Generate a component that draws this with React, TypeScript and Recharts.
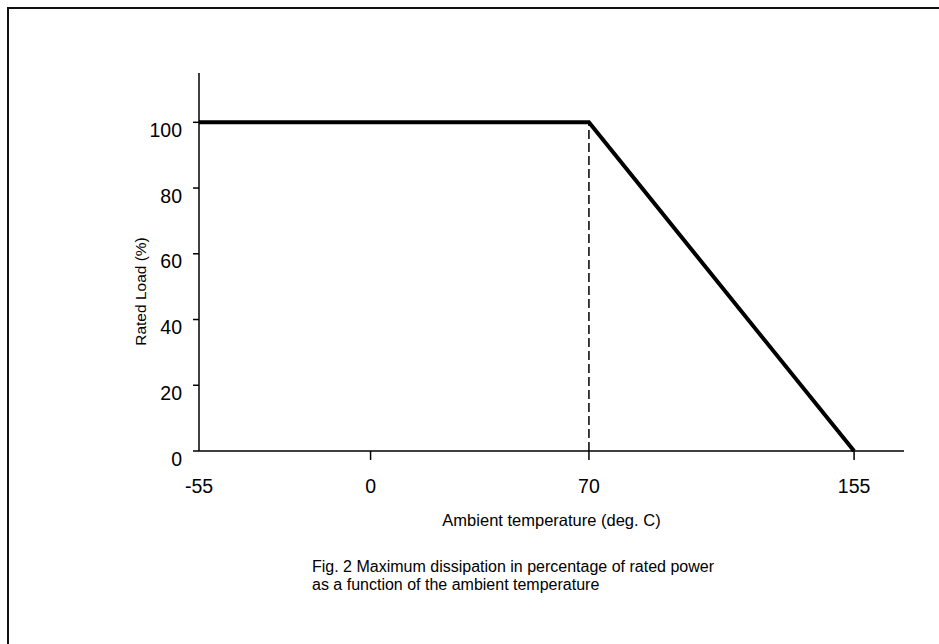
import { LineChart, Line, XAxis, YAxis, ReferenceLine } from 'recharts';

// derating curve: full load up to the knee, then linear down to zero
const temps = [-55, 70, 155];
const loads = [100, 100, 0];
const xTicks = [-55, 0, 70, 155];
const yTicks = [0, 20, 40, 60, 80, 100];
const kneeTemp = 70;
const kneeLoad = 100;

const xTitle = 'Ambient temperature (deg. C)';
const yTitle = 'Rated Load (%)';
const captionLines = [
  'Fig. 2 Maximum dissipation in percentage of rated power',
  'as a function of the ambient temperature',
];

const data = temps.map((t, i) => ({ temp: t, load: loads[i] }));

const FONT = '"Liberation Sans", Arial, sans-serif';

const XTick = ({ x, y, payload }: any) => (
  <g>
    {payload.value !== xTicks[0] && (
      <line x1={x} y1={y - 9} x2={x} y2={y} stroke="#000" strokeWidth={1.5} />
    )}
    <text x={x} y={y + 33} textAnchor="middle" fontSize={19.5} fontFamily={FONT} fill="#000">
      {payload.value}
    </text>
  </g>
);

const YTick = ({ x, y, payload }: any) => (
  <text x={x} y={y + 14.5} textAnchor="end" fontSize={19.5} fontFamily={FONT} fill="#000">
    {payload.value}
  </text>
);

const XTitle = (props: any) => {
  const vb = props.viewBox || { x: 199, y: 451, width: 705 };
  return (
    <text x={vb.x + vb.width / 2} y={vb.y + 74.5} textAnchor="middle" fontSize={16.5} fontFamily={FONT} fill="#000">
      {xTitle}
    </text>
  );
};

const YTitle = (props: any) => {
  const vb = props.viewBox || { x: 0, y: 73, width: 199 };
  const cx = vb.x + 145.5;
  const cy = vb.y + 218.5;
  return (
    <text
      x={cx}
      y={cy}
      transform={`rotate(-90 ${cx} ${cy})`}
      textAnchor="middle"
      fontSize={15.5}
      fontFamily={FONT}
      fill="#000"
    >
      {yTitle}
    </text>
  );
};

export default function App() {
  return (
    <div
      style={{
        position: 'absolute',
        left: 0,
        top: 0,
        width: 939,
        height: 644,
        overflow: 'hidden',
        background: '#fff',
      }}
    >
      <div
        style={{
          position: 'absolute',
          left: 7,
          top: 7,
          width: 1100,
          height: 1100,
          border: '2px solid #111',
        }}
      />
      <div style={{ position: 'absolute', left: 0, top: 0 }}>
        <LineChart width={939} height={644} data={data} margin={{ top: 73, right: 35, bottom: 0, left: 0 }}>
          <XAxis
            dataKey="temp"
            type="number"
            domain={[-55, 171]}
            ticks={xTicks}
            interval={0}
            height={193}
            tickSize={9}
            tickMargin={0}
            tickLine={false}
            axisLine={{ stroke: '#000', strokeWidth: 1.5 }}
            tick={<XTick />}
            label={XTitle}
          />
          <YAxis
            type="number"
            domain={[0, 115]}
            ticks={yTicks}
            interval={0}
            width={199}
            tickSize={6}
            tickMargin={11}
            tickLine={{ stroke: '#000', strokeWidth: 1.5 }}
            axisLine={{ stroke: '#000', strokeWidth: 1.5 }}
            tick={<YTick />}
            label={YTitle}
          />
          <ReferenceLine
            segment={[
              { x: kneeTemp, y: 0 },
              { x: kneeTemp, y: kneeLoad },
            ]}
            stroke="#000"
            strokeWidth={1.5}
            strokeDasharray="9 4"
          />
          <Line
            type="linear"
            dataKey="load"
            stroke="#000"
            strokeWidth={4}
            dot={false}
            isAnimationActive={false}
          />
        </LineChart>
      </div>
      <div
        style={{
          position: 'absolute',
          left: 312,
          top: 558,
          fontFamily: FONT,
          fontSize: 16,
          lineHeight: '18px',
          color: '#000',
          whiteSpace: 'nowrap',
        }}
      >
        {captionLines.map((l) => (
          <div key={l}>{l}</div>
        ))}
      </div>
    </div>
  );
}
